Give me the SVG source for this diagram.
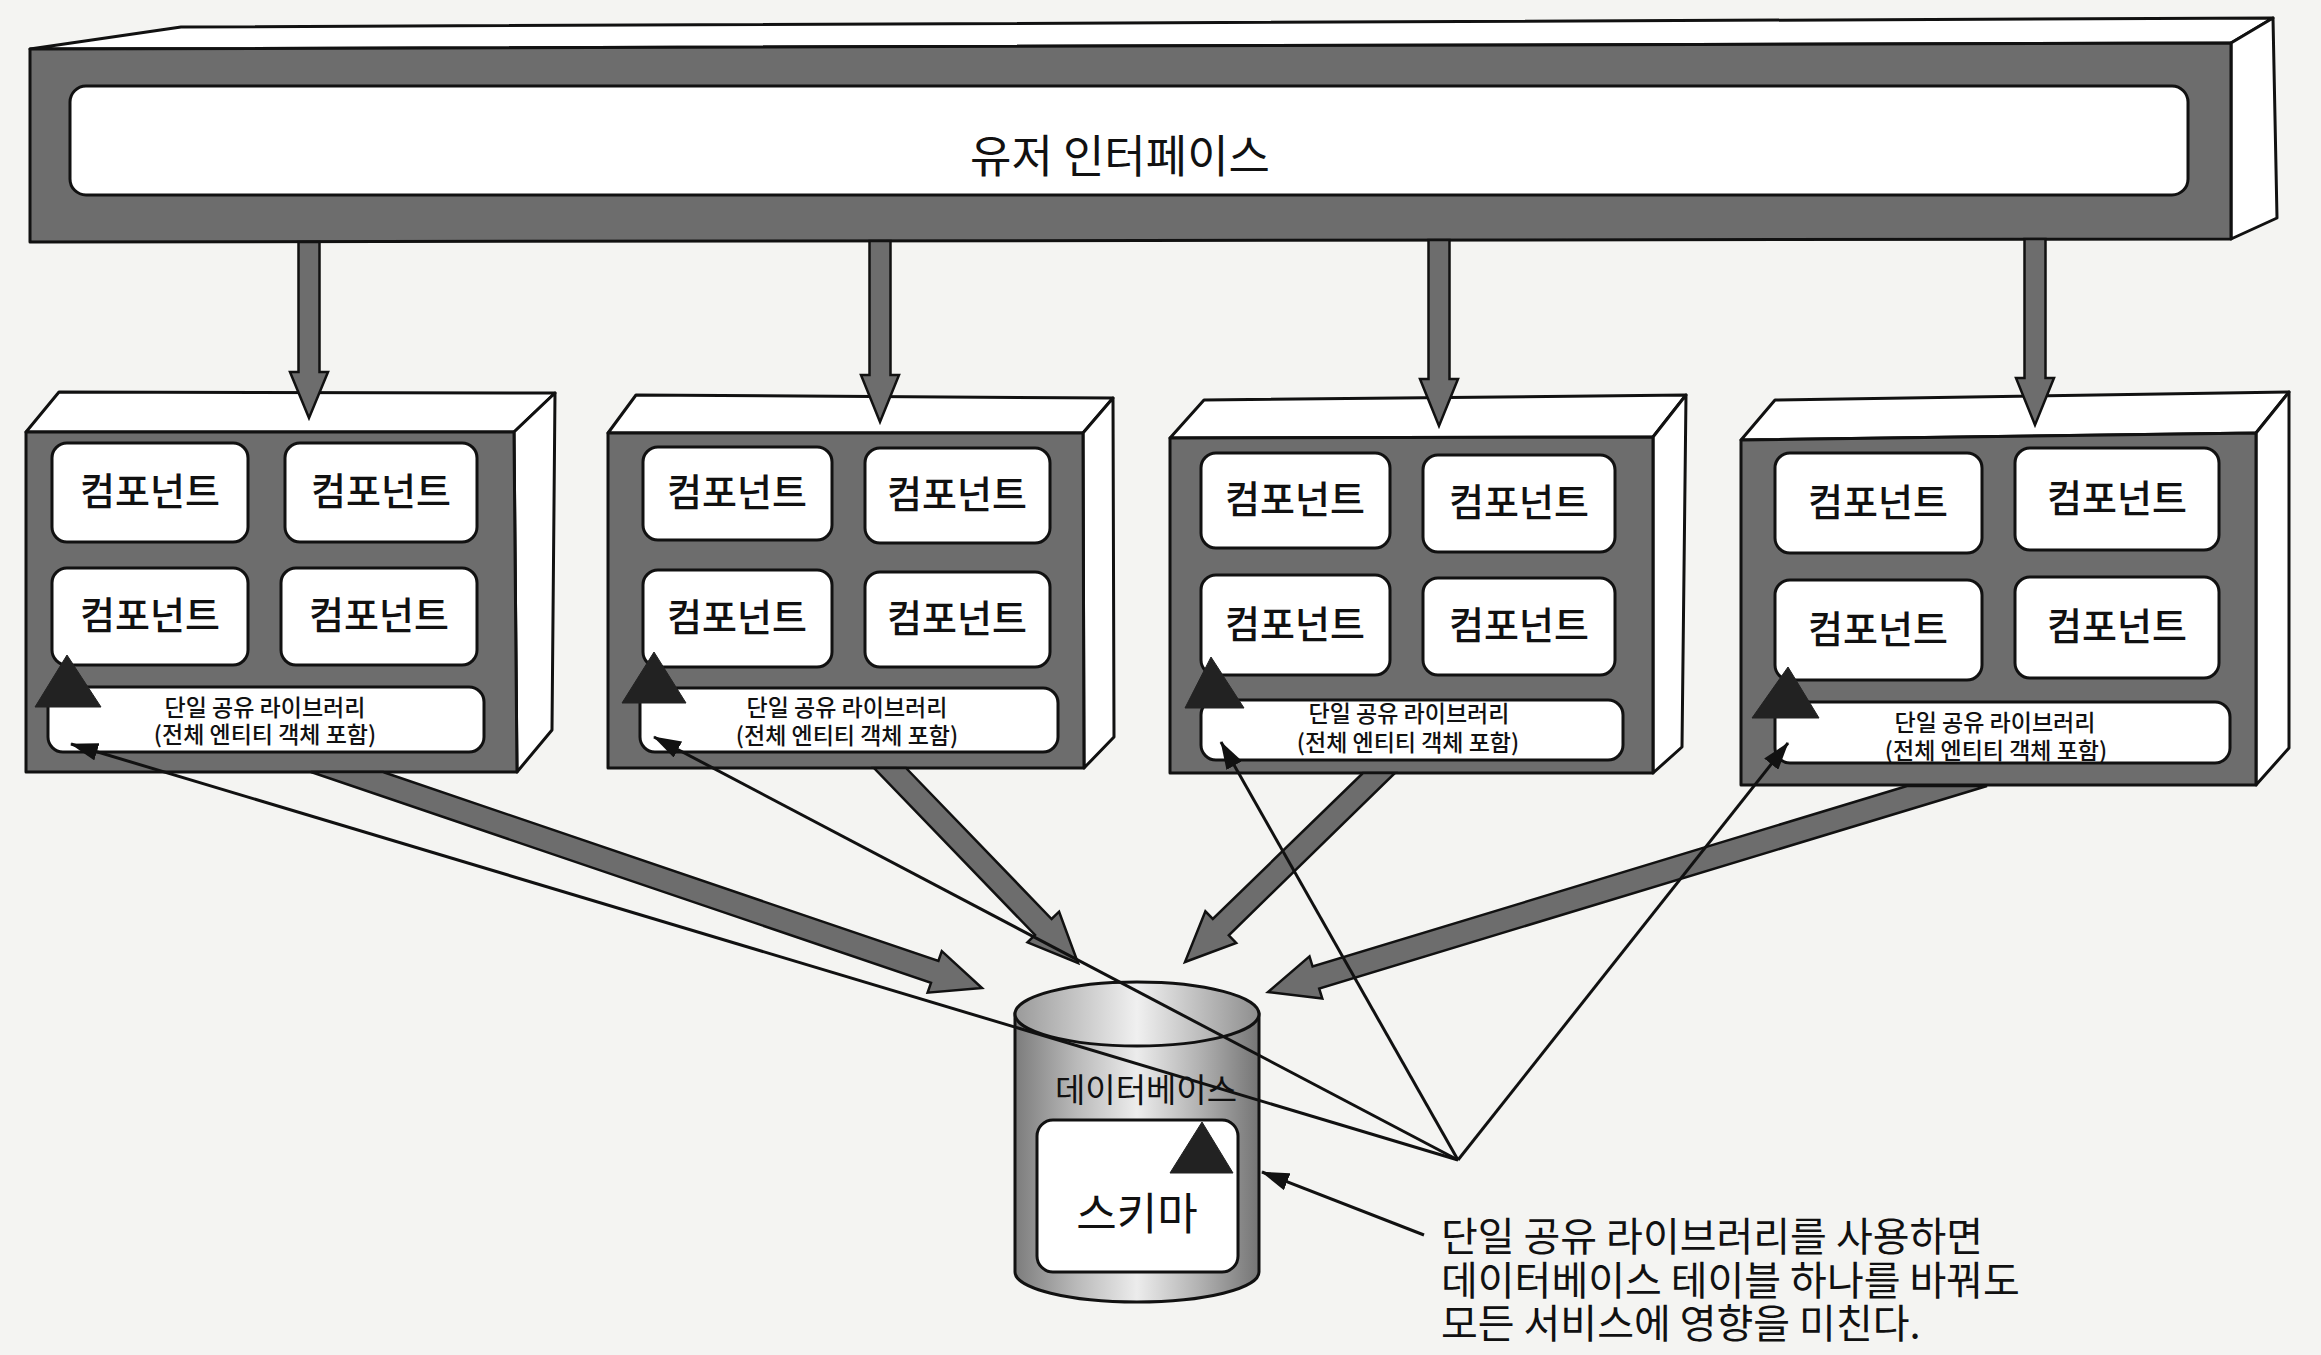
<svg xmlns="http://www.w3.org/2000/svg" width="2321" height="1355" viewBox="0 0 2321 1355">
<defs>
<style>
.wf{fill:#ffffff;stroke:#111;stroke-width:3;stroke-linejoin:round}
.gf{fill:#6d6d6d;stroke:#111;stroke-width:3;stroke-linejoin:round}
.card{fill:#ffffff;stroke:#111;stroke-width:3}
.tri{fill:#222;stroke:#222;stroke-width:1}
.t{font-family:"Noto Sans CJK KR","Noto Sans",sans-serif;fill:#111;text-anchor:middle}
.comp{font-size:38px;font-weight:500}
.lib{font-size:23px;font-weight:500}
.note{font-size:40px;text-anchor:start}
.arr{fill:#6d6d6d;stroke:#111;stroke-width:2.5;stroke-linejoin:miter}
.thin{stroke:#111;stroke-width:3;fill:none}
</style>
<linearGradient id="cyl" x1="0" y1="0" x2="1" y2="0">
<stop offset="0" stop-color="#7c7c7c"/>
<stop offset="0.25" stop-color="#b9b9b9"/>
<stop offset="0.5" stop-color="#ececec"/>
<stop offset="0.75" stop-color="#b3b3b3"/>
<stop offset="1" stop-color="#757575"/>
</linearGradient>
<linearGradient id="cylTop" x1="0" y1="0" x2="1" y2="0">
<stop offset="0" stop-color="#9a9a9a"/>
<stop offset="0.5" stop-color="#f0f0f0"/>
<stop offset="1" stop-color="#8e8e8e"/>
</linearGradient>
<marker id="ah" markerUnits="userSpaceOnUse" markerWidth="28" markerHeight="18" viewBox="0 0 28 18" refX="27" refY="9" orient="auto">
<path d="M0,0 L28,9 L0,18 z" fill="#111"/>
</marker>
</defs>
<rect x="0" y="0" width="2321" height="1355" fill="#f4f4f2"/>

<g id="user-interface">
<polygon class="wf" points="30,49 181,27 2273,18 2231,43"/>
<polygon class="wf" points="2231,43 2273,18 2277,218 2231,239"/>
<polygon class="gf" points="30,49 2231,43 2231,239 30,242"/>
<rect class="card" x="70" y="86" width="2118" height="109" rx="16"/>
<text class="t" x="1120" y="173" font-size="45">유저 인터페이스</text>
</g>

<g id="service-1">
<polygon class="wf" points="26,432 59,392 555,393 514,432"/>
<polygon class="wf" points="514,432 555,393 552,730 517,772"/>
<polygon class="gf" points="26,432 514,432 517,772 26,772"/>
<rect class="card" x="52" y="443" width="196" height="99" rx="15"/>
<rect class="card" x="285" y="443" width="192" height="99" rx="15"/>
<rect class="card" x="52" y="568" width="196" height="97" rx="15"/>
<rect class="card" x="281" y="568" width="196" height="97" rx="15"/>
<rect class="card" x="48" y="687" width="436" height="65" rx="15"/>
<text class="t comp" x="150" y="505">컴포넌트</text>
<text class="t comp" x="381" y="505">컴포넌트</text>
<text class="t comp" x="150" y="629">컴포넌트</text>
<text class="t comp" x="379" y="629">컴포넌트</text>
<text class="t lib" x="265" y="716">단일 공유 라이브러리</text>
<text class="t lib" x="265" y="743">(전체 엔티티 객체 포함)</text>
<polygon class="tri" points="67,655 101,707 35,707"/>
</g>

<g id="service-2">
<polygon class="wf" points="608,433 636,395 1113,398 1083,433"/>
<polygon class="wf" points="1083,433 1113,398 1114,737 1084,768"/>
<polygon class="gf" points="608,433 1083,433 1084,768 608,768"/>
<rect class="card" x="643" y="447" width="189" height="93" rx="15"/>
<rect class="card" x="865" y="448" width="185" height="95" rx="15"/>
<rect class="card" x="643" y="570" width="189" height="97" rx="15"/>
<rect class="card" x="865" y="572" width="185" height="95" rx="15"/>
<rect class="card" x="640" y="688" width="418" height="64" rx="15"/>
<text class="t comp" x="737" y="506">컴포넌트</text>
<text class="t comp" x="957" y="508">컴포넌트</text>
<text class="t comp" x="737" y="631">컴포넌트</text>
<text class="t comp" x="957" y="632">컴포넌트</text>
<text class="t lib" x="847" y="716">단일 공유 라이브러리</text>
<text class="t lib" x="847" y="744">(전체 엔티티 객체 포함)</text>
<polygon class="tri" points="654,652 686,703 622,703"/>
</g>

<g id="service-3">
<polygon class="wf" points="1170,438 1204,400 1686,395 1653,437"/>
<polygon class="wf" points="1653,437 1686,395 1682,747 1653,773"/>
<polygon class="gf" points="1170,438 1653,437 1653,773 1170,773"/>
<rect class="card" x="1201" y="453" width="189" height="95" rx="15"/>
<rect class="card" x="1423" y="455" width="192" height="97" rx="15"/>
<rect class="card" x="1201" y="575" width="189" height="100" rx="15"/>
<rect class="card" x="1423" y="578" width="192" height="97" rx="15"/>
<rect class="card" x="1201" y="700" width="422" height="60" rx="15"/>
<text class="t comp" x="1295" y="513">컴포넌트</text>
<text class="t comp" x="1519" y="516">컴포넌트</text>
<text class="t comp" x="1295" y="638">컴포넌트</text>
<text class="t comp" x="1519" y="639">컴포넌트</text>
<text class="t lib" x="1409" y="722">단일 공유 라이브러리</text>
<text class="t lib" x="1408" y="751">(전체 엔티티 객체 포함)</text>
<polygon class="tri" points="1211,657 1244,708 1185,708"/>
</g>

<g id="service-4">
<polygon class="wf" points="1741,440 1775,400 2289,392 2256,433"/>
<polygon class="wf" points="2256,433 2289,392 2289,748 2256,785"/>
<polygon class="gf" points="1741,440 2256,433 2256,785 1741,785"/>
<rect class="card" x="1775" y="453" width="207" height="100" rx="15"/>
<rect class="card" x="2015" y="448" width="204" height="102" rx="15"/>
<rect class="card" x="1775" y="580" width="207" height="100" rx="15"/>
<rect class="card" x="2015" y="577" width="204" height="101" rx="15"/>
<rect class="card" x="1775" y="702" width="455" height="61" rx="15"/>
<text class="t comp" x="1878" y="516">컴포넌트</text>
<text class="t comp" x="2117" y="512">컴포넌트</text>
<text class="t comp" x="1878" y="643">컴포넌트</text>
<text class="t comp" x="2117" y="640">컴포넌트</text>
<text class="t lib" x="1995" y="731">단일 공유 라이브러리</text>
<text class="t lib" x="1996" y="759">(전체 엔티티 객체 포함)</text>
<polygon class="tri" points="1788,667 1819,718 1752,718"/>
</g>

<g id="database">
<path d="M1015,1014 L1015,1272 A122,30 0 0 0 1259,1272 L1259,1014 Z" fill="url(#cyl)" stroke="#111" stroke-width="3"/>
<ellipse cx="1137" cy="1014" rx="122" ry="32" fill="url(#cylTop)" stroke="#111" stroke-width="3"/>
<text class="t" x="1146" y="1102" font-size="33">데이터베이스</text>
<rect class="card" x="1037" y="1120" width="201" height="152" rx="16"/>
<text class="t" x="1137" y="1230" font-size="44">스키마</text>
<polygon class="tri" points="1202,1122 1233,1173 1170,1173"/>
</g>

<g id="note">
<text class="t note" x="1441" y="1251">단일 공유 라이브러리를 사용하면</text>
<text class="t note" x="1441" y="1295">데이터베이스 테이블 하나를 바꿔도</text>
<text class="t note" x="1441" y="1338">모든 서비스에 영향을 미친다.</text>
</g>

<g id="connectors">
<polygon class="arr" points="298.5,242 319.5,242 319.5,372 328,372 309,418 290,372 298.5,372"/>
<polygon class="arr" points="869.5,241 890.5,241 890.5,375 899,375 880,422 861,375 869.5,375"/>
<polygon class="arr" points="1428.5,240 1449.5,240 1449.5,379 1458,379 1439,426 1420,379 1428.5,379"/>
<polygon class="arr" points="2024.5,239 2045.5,239 2045.5,378 2054,378 2035,425 2016,378 2024.5,378"/>
<polygon class="arr" points="383,772 938.4,961 941.8,951.1 982,988 927.6,992.7 931,982.8 311,772"/>
<polygon class="arr" points="906,768 1051.6,919 1059.1,911.7 1078,963 1027.5,942.3 1035,935 874,768"/>
<polygon class="arr" points="1363,773 1212.8,918.9 1205.4,911.3 1185,962 1236.2,942.9 1228.8,935.3 1395,773"/>
<polygon class="arr" points="1907,786 1312.6,966.5 1309.5,956.4 1268,992 1322.3,998.6 1319.2,988.5 1987,786"/>
<line class="thin" x1="1458" y1="1160" x2="71" y2="744" marker-end="url(#ah)"/>
<line class="thin" x1="1458" y1="1160" x2="654" y2="737" marker-end="url(#ah)"/>
<line class="thin" x1="1458" y1="1160" x2="1221" y2="742" marker-end="url(#ah)"/>
<line class="thin" x1="1458" y1="1160" x2="1788" y2="743" marker-end="url(#ah)"/>
<line class="thin" x1="1424" y1="1235" x2="1262" y2="1172" marker-end="url(#ah)"/>
</g>
</svg>
